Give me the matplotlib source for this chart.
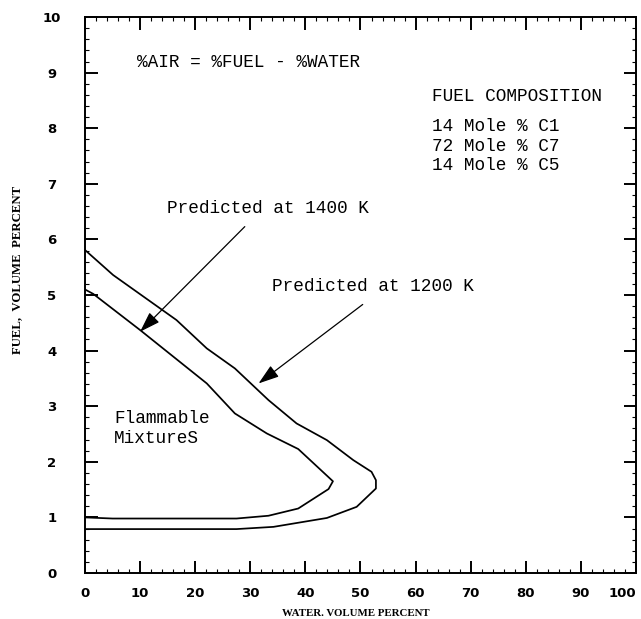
import matplotlib
matplotlib.use("Agg")
import matplotlib.pyplot as plt
from matplotlib.ticker import MultipleLocator

# flammability limit curves (water %, fuel %)
water_1200 = [0, 5.1, 16.6, 22.1, 27.2, 33.3, 38.4, 43.9, 48.7, 52.0, 52.8, 52.8,
              49.3, 43.9, 34.2, 27.5, 0]
fuel_1200 = [5.81, 5.36, 4.55, 4.04, 3.68, 3.11, 2.69, 2.39, 2.03, 1.82, 1.67, 1.52,
             1.19, 0.99, 0.83, 0.79, 0.79]

water_1400 = [0, 1.5, 10.0, 22.1, 27.2, 33.0, 38.7, 45.0, 44.2, 38.7, 33.3, 27.5, 5.0, 0]
fuel_1400 = [5.10, 5.02, 4.37, 3.41, 2.87, 2.51, 2.23, 1.65, 1.51, 1.16, 1.03, 0.98, 0.98, 1.00]

xticks = list(range(0, 101, 10))
yticks = list(range(0, 11))
composition = ["14 Mole % C1", "72 Mole % C7", "14 Mole % C5"]

mono = "Liberation Mono"

fig = plt.figure(figsize=(6.41, 6.19), dpi=100)
ax = fig.add_axes([0.1326, 0.0743, 0.8596, 0.8982])

ax.plot(water_1200, fuel_1200, color="black", lw=1.25)
ax.plot(water_1400, fuel_1400, color="black", lw=1.25)

ax.set_xlim(0, 100)
ax.set_ylim(0, 10)
ax.set_xticks(xticks, [str(v) for v in xticks])
ax.set_yticks(yticks, [str(v) for v in yticks])
ax.xaxis.set_minor_locator(MultipleLocator(2))
ax.yaxis.set_minor_locator(MultipleLocator(0.2))
ax.tick_params(which="both", direction="in", top=True, right=True, color="black")
ax.tick_params(which="major", length=9, width=1.4)
ax.tick_params(which="minor", length=3.2, width=0.8)
ax.tick_params(axis="x", which="major", pad=10)
ax.tick_params(axis="y", which="major", pad=24)
for lab in ax.get_xticklabels() + ax.get_yticklabels():
    lab.set_family("DejaVu Sans")
    lab.set_fontweight("bold")
    lab.set_fontsize(9.5)
for lab in ax.get_yticklabels():
    lab.set_horizontalalignment("center")
ax.xaxis.get_major_ticks()[-1].label1.set_horizontalalignment("right")
for sp in ax.spines.values():
    sp.set_linewidth(1.4)

fig.text(356 / 641, 1 - 613 / 619, "WATER. VOLUME PERCENT", family="Liberation Serif",
         fontweight="bold", fontsize=7.8, ha="center", va="center")
fig.text(17 / 641, 1 - 270 / 619, "FUEL,  VOLUME  PERCENT", family="Liberation Serif",
         fontweight="bold", fontsize=9.2, ha="center", va="center", rotation=90)

ax.text(9.4, 9.19, "%AIR = %FUEL - %WATER", family=mono, fontsize=12.8, va="center")
ax.text(62.9, 8.57, "FUEL COMPOSITION", family=mono, fontsize=12.8, va="center")
for i, line in enumerate(composition):
    ax.text(62.9, 8.03 - 0.35 * i, line, family=mono, fontsize=12.8, va="center")
ax.text(5.3, 2.78, "Flammable", family=mono, fontsize=12.8, va="center")
ax.text(5.3, 2.42, "MixtureS", family=mono, fontsize=12.8, va="center")

arrow = dict(arrowstyle="-|>,head_length=0.9,head_width=0.3", color="black",
             lw=0.9, shrinkA=0, shrinkB=0, mutation_scale=14)
ax.text(14.8, 6.56, "Predicted at 1400 K", family=mono, fontsize=12.8, va="center")
ax.annotate("", xy=(10.0, 4.34), xytext=(29.0, 6.23), arrowprops=arrow)
ax.text(33.9, 5.15, "Predicted at 1200 K", family=mono, fontsize=12.8, va="center")
ax.annotate("", xy=(31.5, 3.41), xytext=(50.4, 4.83), arrowprops=arrow)

fig.savefig("out.png", dpi=100)
